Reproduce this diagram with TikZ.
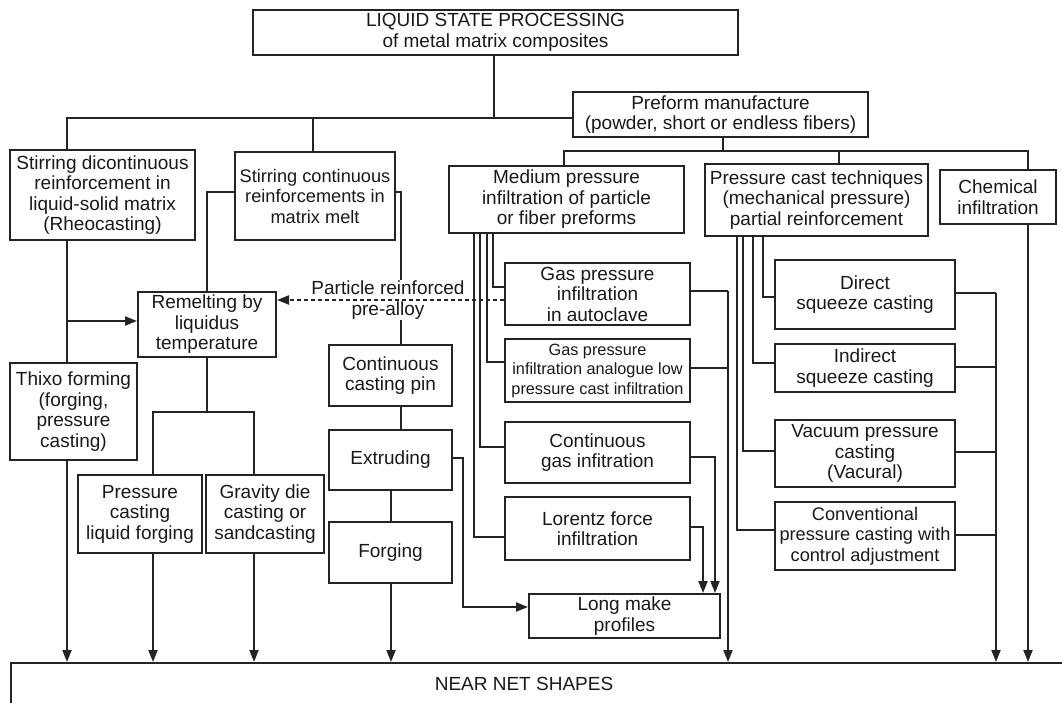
\documentclass[tikz,border=0pt]{standalone}
\usepackage{fontspec}
\setmainfont{Liberation Sans}
\usetikzlibrary{arrows.meta,calc}
\definecolor{lc}{gray}{0.14}
\definecolor{txt}{gray}{0.1}
\newcommand\myfs{\fontsize{19}{20.5}\selectfont}
\newcommand\mynarrow{\fontsize{18.2}{20.5}\selectfont}
\newcommand\mysmall{\fontsize{16.3}{19.5}\selectfont}
\begin{document}
\begin{tikzpicture}[x=1pt,y=-1pt,
  box/.style={draw=lc, line width=2pt, align=center, inner sep=0pt, font=\myfs, text=txt},
  conn/.style={draw=lc, line width=2pt},
  arr/.style={conn, -{Triangle[length=12pt,width=9pt]}},
]
\useasboundingbox (0,0) rectangle (1062,702);
\clip (0,0) rectangle (1062,702);

% boxes
\node[box, minimum width=485pt, minimum height=45pt] (top) at (495.5,32.5) {LIQUID STATE PROCESSING\\of metal matrix composites};
\node[box, minimum width=185pt, minimum height=90pt] (stirD) at (102.5,195) {Stirring dicontinuous\\reinforcement in\\liquid-solid matrix\\(Rheocasting)};
\node[box, minimum width=160pt, minimum height=88pt, font=\mynarrow] (stirC) at (315,196) {Stirring continuous\\reinforcements in\\matrix melt};
\node[box, minimum width=295pt, minimum height=45pt] (preform) at (720.5,114.5) {Preform manufacture\\(powder, short or endless fibers)};
\node[box, minimum width=235pt, minimum height=67pt] (medium) at (566.5,199.5) {Medium pressure\\infiltration of particle\\or fiber preforms};
\node[box, minimum width=223pt, minimum height=72pt] (pcast) at (816.5,200) {Pressure cast techniques\\(mechanical pressure)\\partial reinforcement};
\node[box, minimum width=116pt, minimum height=54pt] (chem) at (998,197) {Chemical\\infiltration};
\node[box, minimum width=138pt, minimum height=65pt] (remelt) at (207,324.5) {Remelting by\\liquidus\\temperature};
\node[box, minimum width=127pt, minimum height=97pt] (thixo) at (73.5,411.5) {Thixo forming\\(forging,\\pressure\\casting)};
\node[box, minimum width=124pt, minimum height=78pt] (pcl) at (140,514) {Pressure\\casting\\liquid forging};
\node[box, minimum width=118pt, minimum height=78pt] (grav) at (265,514) {Gravity die\\casting or\\sandcasting};
\node[box, minimum width=123pt, minimum height=61pt] (pin) at (390.5,375.5) {Continuous\\casting pin};
\node[box, minimum width=123pt, minimum height=60pt] (extr) at (390.5,460) {Extruding};
\node[box, minimum width=123pt, minimum height=61pt] (forg) at (390.5,552.5) {Forging};
\node[box, minimum width=185pt, minimum height=62pt] (autoc) at (597.5,294) {Gas pressure\\infiltration\\in autoclave};
\node[box, minimum width=185pt, minimum height=63pt, font=\mysmall] (analog) at (597.5,370.5) {Gas pressure\\infiltration analogue low\\pressure cast infiltration};
\node[box, minimum width=185pt, minimum height=61pt] (contgas) at (597.5,452.5) {Continuous\\gas infitration};
\node[box, minimum width=185pt, minimum height=63pt] (lorentz) at (597.5,528.5) {Lorentz force\\infiltration};
\node[box, minimum width=191pt, minimum height=44pt] (longm) at (624.5,616) {Long make\\profiles};
\node[box, minimum width=180pt, minimum height=69pt] (direct) at (865,294.5) {Direct\\squeeze casting};
\node[box, minimum width=180pt, minimum height=48pt] (indirect) at (865,368) {Indirect\\squeeze casting};
\node[box, minimum width=180pt, minimum height=67pt] (vacuum) at (865,453.5) {Vacuum pressure\\casting\\(Vacural)};
\node[box, minimum width=180pt, minimum height=68pt, font=\mynarrow] (conv) at (865,536) {Conventional\\pressure casting with\\control adjustment};
\node[box, minimum width=1075pt, minimum height=60pt, anchor=north west] (nns) at (10,662) {};
\node[font=\myfs, text=txt] (nnst) at (524,684) {NEAR NET SHAPES};

% top tree
\draw[conn] (494,0 |- top.south) -- (494,118);
\draw[conn] (67,0 |- stirD.north) -- (67,118) -- (preform.west |- 0,118);
\draw[conn] (313,118) -- (313,0 |- stirC.north);

% preform tree
\draw[conn] (723,0 |- preform.south) -- (723,151);
\draw[conn] (564,0 |- medium.north) -- (564,151) -- (1028,151) -- (1028,0 |- chem.north);
\draw[conn] (839,151) -- (839,0 |- pcast.north);

% left column
\draw[conn] (67,0 |- stirD.south) -- (67,0 |- thixo.north);
\draw[arr] (67,321) -- (remelt.west |- 0,321);
\draw[arr] (67,0 |- thixo.south) -- (67,0 |- nns.north);

% stirring continuous
\draw[conn] (stirC.west |- 0,192) -- (207,192) -- (207,0 |- remelt.north);
\draw[conn] (stirC.east |- 0,192) -- (401,192) -- (401,0 |- pin.north);

% remelting
\draw[conn] (207,0 |- remelt.south) -- (207,412);
\draw[conn] (153,0 |- pcl.north) -- (153,412) -- (254,412) -- (254,0 |- grav.north);
\draw[arr] (153,0 |- pcl.south) -- (153,0 |- nns.north);
\draw[arr] (254,0 |- grav.south) -- (254,0 |- nns.north);

% continuous casting chain
\draw[conn] (401,0 |- pin.south) -- (401,0 |- extr.north);
\draw[conn] (391,0 |- extr.south) -- (391,0 |- forg.north);
\draw[arr] (391,0 |- forg.south) -- (391,0 |- nns.north);
\draw[arr] (extr.east |- 0,458) -- (463,458) -- (463,607) -- (longm.west |- 0,607);

% medium pressure branch
\draw[conn] (493,0 |- medium.south) -- (493,287) -- (autoc.west |- 0,287);
\draw[conn] (487,0 |- medium.south) -- (487,362) -- (analog.west |- 0,362);
\draw[conn] (480,0 |- medium.south) -- (480,447) -- (contgas.west |- 0,447);
\draw[conn] (474,0 |- medium.south) -- (474,537) -- (lorentz.west |- 0,537);
\draw[conn] (autoc.east |- 0,291) -- (728,291);
\draw[conn] (analog.east |- 0,368) -- (728,368);
\draw[arr] (728,291) -- (728,0 |- nns.north);
\draw[arr] (contgas.east |- 0,457) -- (715,457) -- (715,0 |- longm.north);
\draw[arr] (lorentz.east |- 0,527) -- (703,527) -- (703,0 |- longm.north);

% pressure cast branch
\draw[conn] (763,0 |- pcast.south) -- (763,297) -- (direct.west |- 0,297);
\draw[conn] (753,0 |- pcast.south) -- (753,363) -- (indirect.west |- 0,363);
\draw[conn] (743,0 |- pcast.south) -- (743,451) -- (vacuum.west |- 0,451);
\draw[conn] (737,0 |- pcast.south) -- (737,530) -- (conv.west |- 0,530);
\draw[conn] (direct.east |- 0,293) -- (996,293);
\draw[conn] (indirect.east |- 0,367) -- (996,367);
\draw[conn] (vacuum.east |- 0,452) -- (996,452);
\draw[conn] (conv.east |- 0,535) -- (996,535);
\draw[arr] (996,293) -- (996,0 |- nns.north);

% chemical
\draw[arr] (1028,0 |- chem.south) -- (1028,0 |- nns.north);

% dashed pre-alloy arrow
\node[fill=white, inner sep=1pt, align=center, text=txt, font=\fontsize{19}{21}\selectfont] (lbl) at (388,300) {Particle reinforced\\pre-alloy};
\draw[conn, dash pattern=on 4pt off 3pt, -{Triangle[length=12pt,width=9pt]}] (autoc.west |- 0,300) -- (remelt.east |- 0,300);
\end{tikzpicture}
\end{document}
